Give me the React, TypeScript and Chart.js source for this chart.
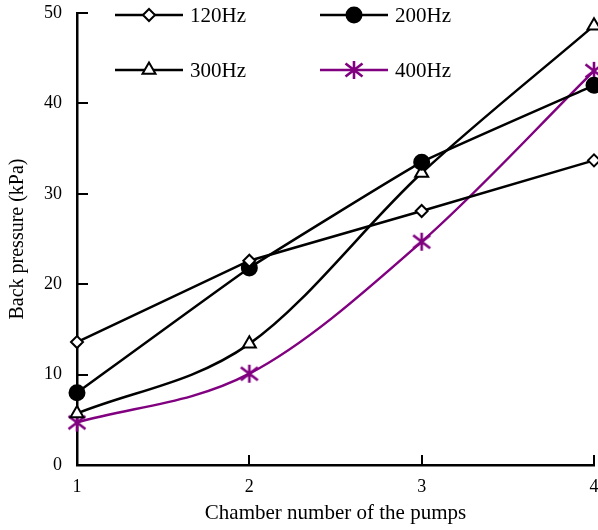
import React, { useEffect, useRef } from "react";
import { Chart, registerables } from "chart.js";
import { drawPoint } from "chart.js/helpers";

Chart.register(...registerables);

const chambers = [1, 2, 3, 4];
const hz120 = [13.6, 22.6, 28.1, 33.7];
const hz200 = [8.0, 21.8, 33.5, 42.0];
const hz300 = [5.7, 13.4, 32.3, 48.6];
const hz400 = [4.7, 10.1, 24.7, 43.6];
const yTicks = [0, 10, 20, 30, 40, 50];
const xTicks = [1, 2, 3, 4];

const FONT = "'Liberation Serif', 'Times New Roman', serif";
const PURPLE = "#800080";

function makeStar(color: string) {
  const c = document.createElement("canvas");
  c.width = 22;
  c.height = 22;
  const g = c.getContext("2d")!;
  g.strokeStyle = color;
  g.lineWidth = 2.6;
  g.lineCap = "butt";
  g.beginPath();
  g.moveTo(11, 2);
  g.lineTo(11, 20);
  g.moveTo(2.5, 4.5);
  g.lineTo(19.5, 17.5);
  g.moveTo(2.5, 17.5);
  g.lineTo(19.5, 4.5);
  g.stroke();
  return c;
}

const inwardTicks = {
  id: "inwardTicks",
  afterDraw(chart: any) {
    const ctx = chart.ctx;
    const xs = chart.scales.x;
    const ys = chart.scales.y;
    const area = chart.chartArea;
    ctx.save();
    ctx.strokeStyle = "#000";
    ctx.lineWidth = 2;
    ctx.beginPath();
    yTicks.forEach((v) => {
      if (v === 0) return;
      const py = Math.round(ys.getPixelForValue(v));
      ctx.moveTo(area.left, py);
      ctx.lineTo(area.left + 11, py);
    });
    xTicks.forEach((v) => {
      if (v === 1) return;
      const px = Math.round(xs.getPixelForValue(v));
      ctx.moveTo(px, area.bottom);
      ctx.lineTo(px, area.bottom - 10);
    });
    ctx.stroke();
    ctx.restore();
  },
};

const customLegend = {
  id: "customLegend",
  afterDraw(chart: any) {
    const ctx = chart.ctx;
    const area = chart.chartArea;
    const cols = [area.left + 38, area.left + 243];
    const rows = [area.top + 2, area.top + 57];
    ctx.save();
    chart.data.datasets.forEach((ds: any, i: number) => {
      const x0 = cols[i % 2];
      const y = rows[Math.floor(i / 2)];
      ctx.strokeStyle = ds.borderColor;
      ctx.lineWidth = ds.borderWidth;
      ctx.beginPath();
      ctx.moveTo(x0, y);
      ctx.lineTo(x0 + 68, y);
      ctx.stroke();
      ctx.fillStyle = ds.pointBackgroundColor;
      ctx.strokeStyle = ds.pointBorderColor;
      ctx.lineWidth = ds.pointBorderWidth;
      drawPoint(ctx, { pointStyle: ds.pointStyle, radius: ds.pointRadius, rotation: 0, borderWidth: ds.pointBorderWidth }, x0 + 34, y);
      ctx.fillStyle = "#000";
      ctx.font = `21px ${FONT}`;
      ctx.textBaseline = "middle";
      ctx.textAlign = "left";
      ctx.fillText(ds.label, x0 + 75, y + 1);
    });
    ctx.restore();
  },
};

export default function App() {
  const ref = useRef<HTMLCanvasElement>(null);
  useEffect(() => {
    document.body.style.margin = "0";
    const mk = (label: string, data: number[], color: string, style: any, radius: number, bg: string, tension: number, mono: boolean, bw: number) => ({
      label,
      data: chambers.map((c, i) => ({ x: c, y: data[i] })),
      borderColor: color,
      borderWidth: bw,
      pointStyle: style,
      pointRadius: radius,
      pointBackgroundColor: bg,
      pointBorderColor: color,
      pointBorderWidth: 2,
      tension,
      cubicInterpolationMode: mono ? "monotone" : "default",
      clip: false,
    });
    const chart = new Chart(ref.current!, {
      type: "line",
      data: {
        datasets: [
          mk("120Hz", hz120, "#000", "rectRot", 6, "#fff", 0, false, 2.5),
          mk("200Hz", hz200, "#000", "circle", 7.5, "#000", 0.1, false, 2.5),
          mk("300Hz", hz300, "#000", "triangle", 7.5, "#fff", 0.4, true, 2.5),
          mk("400Hz", hz400, PURPLE, makeStar(PURPLE), 9, PURPLE, 0.4, true, 2.5),
        ] as any,
      },
      options: {
        animation: false,
        responsive: false,
        layout: { autoPadding: false, padding: { top: 13, right: 4, left: 0, bottom: 0 } },
        plugins: { legend: { display: false }, tooltip: { enabled: false } },
        scales: {
          x: {
            type: "linear",
            min: 1,
            max: 4,
            afterFit: (s: any) => { s.height = 65; s.paddingLeft = 0; s.paddingRight = 0; },
            afterBuildTicks: (s: any) => { s.ticks = xTicks.map((v) => ({ value: v })); },
            grid: { display: false, drawTicks: false },
            border: { display: true, color: "#000", width: 2.5 },
            ticks: { color: "#000", font: { family: FONT, size: 18 }, padding: 11 },
            title: { display: true, text: "Chamber number of the pumps", color: "#000", font: { family: FONT, size: 21 }, padding: { top: 2 } },
          },
          y: {
            min: 0,
            max: 50,
            afterFit: (s: any) => { s.width = 77; s.paddingTop = 0; s.paddingBottom = 0; },
            afterBuildTicks: (s: any) => { s.ticks = yTicks.map((v) => ({ value: v })); },
            grid: { display: false, drawTicks: false },
            border: { display: true, color: "#000", width: 2.5 },
            ticks: { color: "#000", font: { family: FONT, size: 18 }, padding: 15 },
            title: { display: true, text: "Back pressure (kPa)", color: "#000", font: { family: FONT, size: 20 }, padding: { bottom: 0, top: 6 } },
          },
        },
      } as any,
      plugins: [inwardTicks, customLegend],
    });
    return () => chart.destroy();
  }, []);
  return <canvas ref={ref} width={598} height={530} style={{ display: "block" }} />;
}
